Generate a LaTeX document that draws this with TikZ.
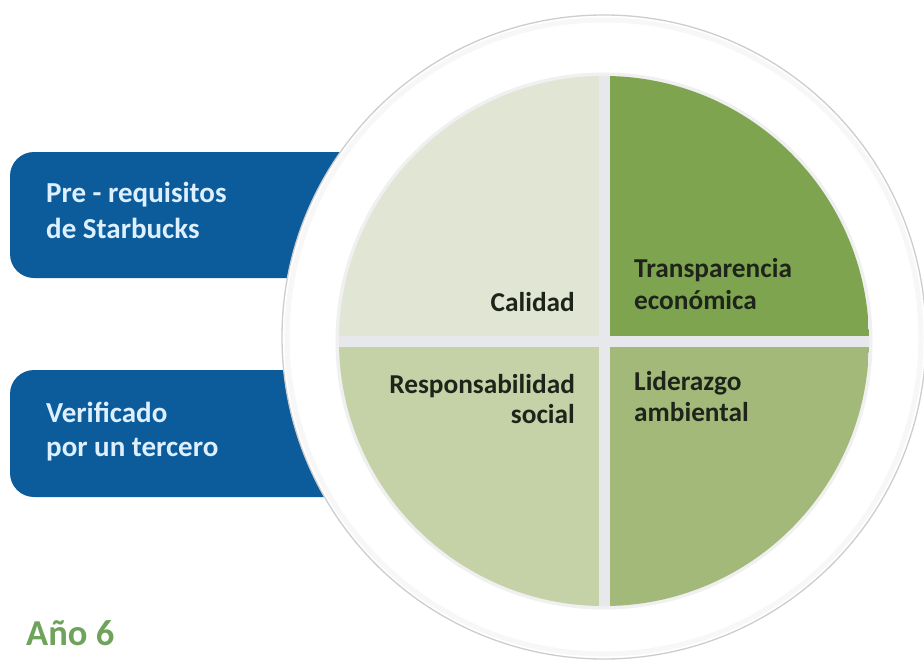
\documentclass[tikz,border=0pt]{standalone}
\usepackage{fontspec}
\setmainfont{Carlito}
\definecolor{sbblue}{RGB}{12,92,155}
\definecolor{boxtxt}{RGB}{222,240,255}
\definecolor{qcal}{RGB}{224,230,211}
\definecolor{qtra}{RGB}{126,164,80}
\definecolor{qres}{RGB}{197,209,167}
\definecolor{qlid}{RGB}{163,185,122}
\definecolor{gapc}{RGB}{230,232,236}
\definecolor{pietxt}{RGB}{30,36,26}
\definecolor{anogreen}{RGB}{110,163,91}
\definecolor{ringgray}{RGB}{205,205,205}
\begin{document}
\begin{tikzpicture}[x=1pt,y=-1pt,
  bluebox/.style={fill=sbblue, rounded corners=24pt},
  boxtext/.style={text=boxtxt, font=\fontsize{29}{36}\selectfont\bfseries, anchor=base west, inner sep=0pt},
  pieleft/.style={text=pietxt, font=\fontsize{27.3}{31}\selectfont\bfseries, anchor=base east, inner sep=0pt},
  pieright/.style={text=pietxt, font=\fontsize{27.3}{31}\selectfont\bfseries, anchor=base west, inner sep=0pt},
]
\useasboundingbox[fill=white] (0,0) rectangle (924,665);

% blue boxes
\fill[bluebox] (10,152) rectangle (430,278);
\fill[bluebox] (10,370) rectangle (430,497);

% outer white disc
\coordinate (oc) at (604,337);
\fill[white] (oc) circle (322pt);
\draw[black!3, line width=5pt] (oc) circle (317pt);
\draw[ringgray, line width=1.3pt] (oc) circle (322pt);

% pie
\coordinate (pc) at (604,341);
\fill[black!6] (pc) circle (268.5pt);
\fill[gapc] (pc) circle (265pt);
\begin{scope}
  \clip (pc) circle (265pt);
  \fill[qcal] (339,76) rectangle (598.5,335.5);
  \fill[qtra] (609.5,76) rectangle (869,335.5);
  \fill[qres] (339,346.5) rectangle (598.5,606);
  \fill[qlid] (609.5,346.5) rectangle (869,606);
\end{scope}

% box texts
\node[boxtext] (b1a) at (46,202) {Pre - requisitos};
\node[boxtext] (b1b) at (46,238) {de Starbucks};
\node[boxtext] (b2a) at (46,422) {Verificado};
\node[boxtext] (b2b) at (46,456) {por un tercero};

% pie texts
\node[pieleft] (cal) at (575,311) {Calidad};
\node[pieright] (tra1) at (634,277) {Transparencia};
\node[pieright] (tra2) at (634,309) {económica};
\node[pieleft] (res1) at (575,393) {Responsabilidad};
\node[pieleft] (res2) at (575,423) {social};
\node[pieright] (lid1) at (634,390) {Liderazgo};
\node[pieright] (lid2) at (634,421) {ambiental};

% year label
\node[text=anogreen, font=\fontsize{36.5}{40}\selectfont\bfseries, anchor=base west, inner sep=0pt] (ano) at (26,645) {Año 6};
\end{tikzpicture}
\end{document}
